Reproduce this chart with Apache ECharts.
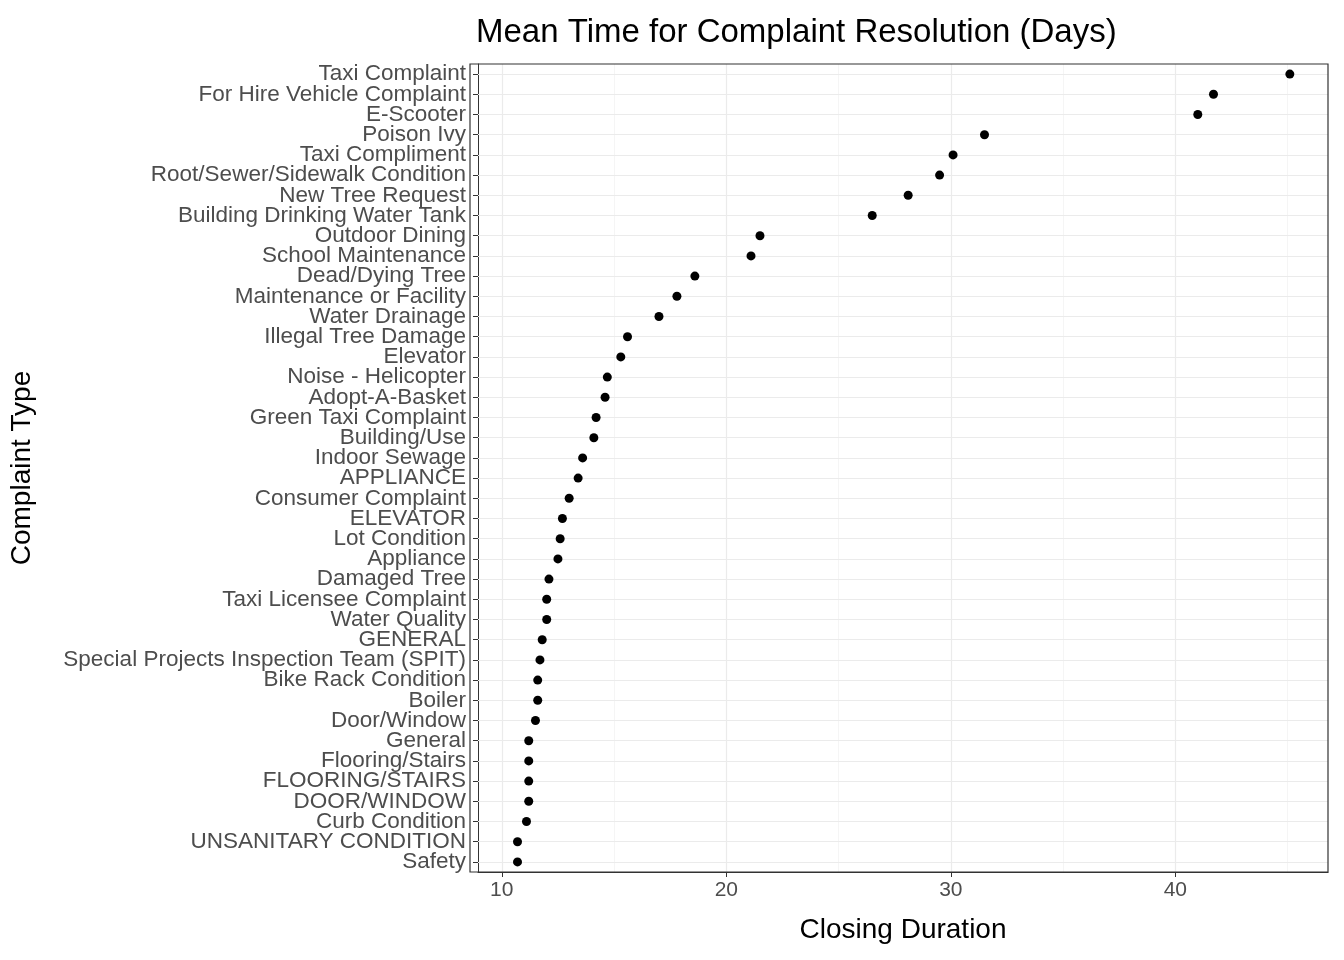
<!DOCTYPE html>
<html><head><meta charset="utf-8">
<script src="https://cdn.jsdelivr.net/npm/echarts@6/dist/echarts.min.js"></script>
<style>html,body{margin:0;background:#fff}#c{width:1344px;height:960px}</style>
</head><body><div id="c"></div>
<script>
const categories = ['Taxi Complaint','For Hire Vehicle Complaint','E-Scooter','Poison Ivy','Taxi Compliment',
  'Root/Sewer/Sidewalk Condition','New Tree Request','Building Drinking Water Tank','Outdoor Dining','School Maintenance',
  'Dead/Dying Tree','Maintenance or Facility','Water Drainage','Illegal Tree Damage','Elevator',
  'Noise - Helicopter','Adopt-A-Basket','Green Taxi Complaint','Building/Use','Indoor Sewage',
  'APPLIANCE','Consumer Complaint','ELEVATOR','Lot Condition','Appliance',
  'Damaged Tree','Taxi Licensee Complaint','Water Quality','GENERAL','Special Projects Inspection Team (SPIT)',
  'Bike Rack Condition','Boiler','Door/Window','General','Flooring/Stairs',
  'FLOORING/STAIRS','DOOR/WINDOW','Curb Condition','UNSANITARY CONDITION','Safety'];
const durations = [45.1,41.7,41.0,31.5,30.1,29.5,28.1,26.5,21.5,21.1,
  18.6,17.8,17.0,15.6,15.3,14.7,14.6,14.2,14.1,13.6,
  13.4,13.0,12.7,12.6,12.5,12.1,12.0,12.0,11.8,11.7,
  11.6,11.6,11.5,11.2,11.2,11.2,11.2,11.1,10.7,10.7];
const majorTicks = [10,20,30,40];
const minorTicks = [15,25,35,45];

const gridLines = [];
minorTicks.forEach(v => gridLines.push({xAxis: v, lineStyle: {color: '#f2f2f2', width: 0.8, type: 'solid'}}));
majorTicks.forEach(v => gridLines.push({xAxis: v, lineStyle: {color: '#ebebeb', width: 1.2, type: 'solid'}}));
categories.forEach(c => gridLines.push({yAxis: c, lineStyle: {color: '#ebebeb', width: 1.2, type: 'solid'}}));

echarts.init(document.getElementById('c')).setOption({
  animation: false,
  textStyle: {fontFamily: 'Liberation Sans, Arial'},
  title: {text: 'Mean Time for Complaint Resolution (Days)', left: 471, top: 11,
    textStyle: {fontSize: 33, fontWeight: 'normal', color: '#000'}},
  grid: {left: 470, right: 16, top: 64, bottom: 88},
  xAxis: {
    type: 'value', min: 8.94, max: 46.8,
    name: 'Closing Duration', nameLocation: 'middle', nameGap: 44,
    nameTextStyle: {fontSize: 28, color: '#000'},
    axisLine: {show: true, onZero: false, lineStyle: {color: '#333'}},
    axisTick: {show: true, customValues: majorTicks, length: 5, lineStyle: {color: '#333'}},
    axisLabel: {customValues: majorTicks, fontSize: 21, color: '#4d4d4d', margin: 8},
    splitLine: {show: false}
  },
  yAxis: {
    type: 'category', inverse: true, data: categories,
    name: 'Complaint Type', nameLocation: 'middle', nameGap: 442,
    nameTextStyle: {fontSize: 28, color: '#000'},
    axisLine: {show: true, lineStyle: {color: '#333'}},
    axisTick: {show: true, alignWithLabel: true, length: 5, lineStyle: {color: '#333'}},
    axisLabel: {interval: 0, fontSize: 22.5, color: '#4d4d4d', margin: 12, lineHeight: 22, padding: [4, 0, 0, 0]},
    splitLine: {show: false}
  },
  series: [{
    type: 'scatter', symbolSize: 9, itemStyle: {color: '#000', opacity: 1},
    data: durations.map((v, i) => [v, categories[i]]),
    z: 5,
    markLine: {silent: true, symbol: 'none', label: {show: false}, z: 1, data: gridLines}
  }],
  graphic: [{type: 'rect', z: 100, silent: true,
    shape: {x: 470, y: 64, width: 858, height: 808},
    style: {fill: 'none', stroke: '#333', lineWidth: 1.2}}]
});
</script></body></html>
